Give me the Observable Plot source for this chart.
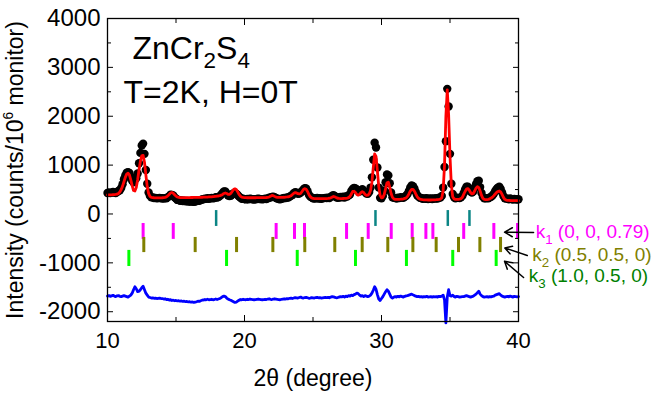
<!DOCTYPE html>
<html>
<head>
<meta charset="utf-8">
<script src="https://cdn.jsdelivr.net/npm/d3@7"></script>
<script src="https://cdn.jsdelivr.net/npm/@observablehq/plot@0.6"></script>
<style>
  html, body { margin: 0; padding: 0; background: #fff; }
  #chart { width: 665px; height: 394px; }
</style>
</head>
<body>
<div id="chart"></div>
<script>
// Neutron powder pattern of ZnCr2S4 at 2 K, zero field, sampled every 0.1° in 2θ from 10° to 40°.
const twoTheta = d3.range(0, 301).map(i => (100 + i) / 10);

// Observed intensity (counts / 10^6 monitor)
const observed = [
  430, 440, 427, 438, 450, 437, 430, 450, 470, 485,
  530, 610, 710, 790, 845, 855, 840, 760, 680, 650,
  700, 730, 830, 1040, 1250, 1400, 1440, 1230, 900, 620,
  440, 370, 340, 340, 327, 330, 320, 325, 330, 320,
  322, 315, 325, 320, 345, 360, 395, 390, 380, 340,
  315, 288, 285, 272, 275, 265, 270, 260, 265, 256,
  261, 252, 257, 248, 253, 264, 275, 270, 286, 297,
  303, 314, 310, 321, 313, 320, 327, 320, 328, 342,
  335, 348, 365, 395, 430, 460, 460, 420, 380, 365,
  375, 400, 425, 425, 415, 390, 355, 335, 310, 313,
  305, 298, 307, 302, 312, 307, 302, 297, 302, 308,
  313, 308, 304, 299, 305, 311, 307, 320, 333, 340,
  348, 355, 345, 325, 315, 308, 303, 313, 320, 327,
  325, 338, 337, 355, 375, 390, 425, 447, 435, 415,
  420, 440, 465, 500, 528, 520, 465, 395, 355, 340,
  323, 315, 323, 328, 318, 323, 313, 319, 324, 330,
  326, 333, 327, 350, 375, 383, 365, 340, 332, 338,
  346, 341, 352, 338, 360, 355, 385, 400, 470, 510,
  535, 520, 500, 475, 460, 475, 505, 470, 450, 420,
  415, 450, 540, 750, 1110, 1460, 1360, 950, 540, 330,
  320, 370, 480, 650, 810, 790, 630, 440, 340, 330,
  330, 318, 333, 325, 342, 335, 330, 353, 375, 410,
  470, 540, 585, 570, 520, 450, 385, 355, 330, 328,
  313, 320, 313, 322, 306, 311, 316, 307, 318, 315,
  322, 315, 333, 335, 370, 540, 960, 1490, 2560, 2200,
  1230, 620, 410, 340, 320, 333, 330, 325, 340, 370,
  430, 500, 560, 560, 520, 460, 440, 460, 530, 610,
  670, 680, 550, 430, 350, 320, 320, 325, 320, 340,
  350, 380, 415, 470, 510, 540, 560, 510, 440, 370,
  320, 315, 315, 303, 316, 305, 295, 309, 303, 297,
  302
];

// Calculated (refined) profile
const calculated = [
  390, 390, 392, 393, 395, 397, 400, 405, 420, 450,
  500, 570, 660, 750, 815, 835, 800, 700, 580, 480,
  470, 540, 700, 900, 1080, 1190, 1200, 1060, 800, 560,
  420, 360, 340, 335, 332, 330, 330, 330, 330, 330,
  332, 335, 340, 350, 370, 400, 430, 440, 425, 395,
  365, 348, 340, 337, 335, 335, 335, 335, 335, 336,
  336, 337, 337, 338, 338, 339, 340, 340, 341, 342,
  343, 344, 345, 346, 348, 350, 352, 355, 358, 362,
  365, 368, 375, 385, 400, 420, 430, 420, 400, 400,
  420, 460, 500, 515, 500, 455, 400, 365, 345, 338,
  335, 333, 332, 332, 332, 332, 332, 332, 332, 333,
  333, 333, 334, 334, 335, 336, 337, 340, 348, 365,
  378, 375, 360, 345, 340, 338, 338, 338, 340, 342,
  345, 348, 352, 360, 375, 400, 425, 437, 430, 415,
  410, 420, 460, 500, 518, 505, 460, 400, 355, 330,
  318, 315, 313, 313, 313, 313, 313, 314, 314, 315,
  316, 318, 322, 330, 345, 358, 350, 335, 322, 318,
  316, 316, 317, 318, 320, 325, 335, 360, 410, 460,
  465, 440, 400, 385, 400, 435, 455, 440, 400, 380,
  385, 410, 480, 650, 950, 1230, 1180, 880, 560, 380,
  330, 340, 400, 520, 640, 650, 550, 420, 340, 310,
  300, 298, 298, 300, 302, 305, 310, 318, 330, 360,
  410, 470, 505, 505, 470, 410, 355, 320, 305, 298,
  293, 290, 288, 287, 286, 286, 286, 287, 288, 290,
  292, 295, 298, 305, 330, 480, 1000, 2000, 2540, 2030,
  1180, 580, 350, 310, 300, 298, 300, 305, 315, 340,
  400, 460, 510, 520, 490, 440, 410, 420, 470, 530,
  560, 540, 470, 380, 320, 300, 295, 295, 300, 310,
  325, 345, 375, 410, 440, 460, 470, 450, 400, 340,
  300, 285, 280, 278, 276, 275, 275, 274, 273, 272,
  272
];

// Difference curve (observed - calculated), drawn shifted below the pattern
const difference = [
  -1680, -1670, -1685, -1675, -1665, -1680, -1690, -1675, -1670, -1685,
  -1690, -1680, -1670, -1680, -1690, -1700, -1680, -1660, -1620, -1550,
  -1490, -1530, -1590, -1580, -1550, -1510, -1480, -1550, -1620, -1660,
  -1700, -1710, -1720, -1715, -1725, -1720, -1730, -1725, -1720, -1730,
  -1730, -1740, -1735, -1750, -1745, -1760, -1755, -1770, -1765, -1775,
  -1770, -1780, -1775, -1785, -1780, -1790, -1785, -1795, -1790, -1800,
  -1795, -1805, -1800, -1810, -1805, -1795, -1785, -1790, -1775, -1765,
  -1760, -1750, -1755, -1745, -1755, -1750, -1745, -1755, -1750, -1740,
  -1750, -1740, -1730, -1710, -1690, -1680, -1690, -1720, -1740, -1755,
  -1765, -1780, -1795, -1810, -1805, -1785, -1765, -1750, -1755, -1745,
  -1750, -1755, -1745, -1750, -1740, -1745, -1750, -1755, -1750, -1745,
  -1740, -1745, -1750, -1755, -1750, -1745, -1750, -1740, -1735, -1745,
  -1750, -1740, -1735, -1740, -1745, -1750, -1755, -1745, -1740, -1735,
  -1740, -1730, -1735, -1725, -1720, -1730, -1720, -1710, -1715, -1720,
  -1710, -1700, -1715, -1720, -1710, -1705, -1715, -1725, -1720, -1710,
  -1715, -1720, -1710, -1705, -1715, -1710, -1720, -1715, -1710, -1705,
  -1710, -1705, -1715, -1700, -1690, -1695, -1705, -1715, -1710, -1700,
  -1690, -1695, -1685, -1700, -1680, -1690, -1670, -1680, -1660, -1670,
  -1650, -1640, -1620, -1630, -1660, -1680, -1670, -1690, -1670, -1680,
  -1690, -1680, -1660, -1620, -1560, -1490, -1540, -1650, -1740, -1770,
  -1730, -1690, -1640, -1590, -1550, -1580, -1640, -1700, -1720, -1700,
  -1690, -1700, -1685, -1695, -1680, -1690, -1700, -1685, -1675, -1670,
  -1660, -1650, -1640, -1655, -1670, -1680, -1690, -1685, -1695, -1690,
  -1700, -1690, -1695, -1685, -1700, -1695, -1690, -1700, -1690, -1695,
  -1690, -1700, -1685, -1690, -1680, -1660, -1760, -2230, -1700, -1550,
  -1670, -1680, -1660, -1690, -1700, -1685, -1690, -1700, -1695, -1690,
  -1690, -1680, -1670, -1680, -1690, -1700, -1690, -1680, -1660, -1640,
  -1610, -1580, -1640, -1670, -1690, -1700, -1695, -1690, -1700, -1690,
  -1695, -1685, -1680, -1660, -1650, -1640, -1630, -1660, -1680, -1690,
  -1700, -1690, -1685, -1695, -1680, -1690, -1700, -1685, -1690, -1695,
  -1690
];

// Bragg reflection positions (2θ, degrees)
const nuclearPeaks = [17.93, 29.56, 34.84, 36.42];
const k1Peaks = [12.6, 14.8, 22.31, 23.65, 24.38, 27.45, 29.03, 30.71, 32.24, 33.24, 33.75, 36.0, 38.2, 39.93];
const k2Peaks = [12.65, 16.4, 19.42, 22.07, 24.4, 26.59, 28.59, 30.46, 32.29, 33.99, 35.62, 37.18, 38.69];
const k3Peaks = [11.56, 18.69, 23.85, 28.1, 31.82, 35.2, 38.37];

// Propagation-vector labels for the three magnetic reflection rows
const phaseNames = ["k_1 (0, 0, 0.79)", "k_2 (0.5, 0.5, 0)", "k_3 (1.0, 0.5, 0)"];
const phaseColors = ["#ff00ff", "#808000", "#008000"];

// Axis ticks
const xMajor = [10, 20, 30, 40];
const xMinor = [15, 25, 35];
const yMajor = [-2000, -1000, 0, 1000, 2000, 3000, 4000];
const yMinor = [-1500, -500, 500, 1500, 2500, 3500];

const pattern = twoTheta.map((t, i) => ({t, obs: observed[i], calc: calculated[i], diff: difference[i]}));

// Label placement and pointer arrows for each reflection row
const phaseLabels = phaseNames.map((label, i) => ({
  label,
  color: phaseColors[i],
  x: [41.25, 41.0, 40.75][i],
  y: [-500, -965, -1395][i]
}));
const pointers = [
  {x1: 41.1, y1: -378, x2: 38.98, y2: -372},
  {x1: 40.64, y1: -849, x2: 39.0, y2: -694},
  {x1: 40.37, y1: -1299, x2: 38.98, y2: -968}
];

const font = "'Liberation Sans', Arial, Helvetica, sans-serif";
const plain = d => String(d);

const chart = Plot.plot({
  width: 665,
  height: 394,
  marginLeft: 107,
  marginRight: 147,
  marginTop: 18,
  marginBottom: 73,
  style: {fontFamily: font, fontSize: "22px", color: "black", background: "white", overflow: "visible"},
  x: {domain: [10, 40]},
  y: {domain: [-2200, 4000]},
  marks: [
    // reflection markers
    Plot.ruleX(nuclearPeaks, {x: d => d, y1: 70, y2: -255, stroke: "#0b8585", strokeWidth: 2.5}),
    Plot.ruleX(k1Peaks, {x: d => d, y1: -195, y2: -520, stroke: "#ff00ff", strokeWidth: 3}),
    Plot.ruleX(k2Peaks, {x: d => d, y1: -480, y2: -790, stroke: "#808000", strokeWidth: 3}),
    Plot.ruleX(k3Peaks, {x: d => d, y1: -745, y2: -1075, stroke: "#00ff00", strokeWidth: 3}),
    // difference curve
    Plot.line(pattern, {x: "t", y: "diff", stroke: "#0000ff", strokeWidth: 2.8}),
    // observed points and calculated profile
    Plot.dot(pattern, {x: "t", y: "obs", r: 4.2, fill: "black", stroke: "none"}),
    Plot.line(pattern, {x: "t", y: "calc", stroke: "#ff0000", strokeWidth: 2.8}),
    // frame with inward ticks on all four sides
    Plot.frame({stroke: "black", strokeWidth: 1.3}),
    Plot.axisX(xMajor, {anchor: "bottom", tickSize: -6, tickPadding: 17, fontSize: 22, tickFormat: plain, label: null}),
    Plot.axisX(xMinor, {anchor: "bottom", tickSize: -4, tickFormat: () => "", label: null}),
    Plot.axisX(xMajor, {anchor: "top", tickSize: -6, tickFormat: () => "", label: null}),
    Plot.axisX(xMinor, {anchor: "top", tickSize: -4, tickFormat: () => "", label: null}),
    Plot.axisY(yMajor, {anchor: "left", tickSize: -6, tickPadding: 13, fontSize: 24, tickFormat: plain, label: null}),
    Plot.axisY(yMinor, {anchor: "left", tickSize: -4, tickFormat: () => "", label: null}),
    Plot.axisY(yMajor, {anchor: "right", tickSize: -6, tickFormat: () => "", label: null}),
    Plot.axisY(yMinor, {anchor: "right", tickSize: -4, tickFormat: () => "", label: null}),
    // axis titles
    Plot.text(["2θ (degree)"], {text: d => d, frameAnchor: "bottom", dy: 64, textAnchor: "middle", lineAnchor: "bottom", fontSize: 23}),
    Plot.text(["Intensity (counts/10^6 monitor)"], {text: d => d, frameAnchor: "left", rotate: -90, dx: -85, textAnchor: "middle", lineAnchor: "bottom", fontSize: 23}),
    // sample and conditions
    Plot.text(["ZnCr_2S_4"], {text: d => d, frameAnchor: "top-left", dx: 25, dy: 40, textAnchor: "start", lineAnchor: "bottom", fontSize: 32}),
    Plot.text(["T=2K, H=0T"], {text: d => d, frameAnchor: "top-left", dx: 16, dy: 84, textAnchor: "start", lineAnchor: "bottom", fontSize: 32}),
    // propagation-vector legend
    Plot.arrow(pointers, {x1: "x1", y1: "y1", x2: "x2", y2: "y2", stroke: "black", strokeWidth: 1.5, headLength: 9}),
    Plot.text(phaseLabels, {x: "x", y: "y", text: "label", fill: "color", textAnchor: "start", lineAnchor: "bottom", fontSize: 19})
  ]
});

document.getElementById("chart").appendChild(chart);

// Render "_x" as a subscript and "^x" as a superscript inside SVG text
function richText(svg) {
  svg.querySelectorAll("text").forEach(node => {
    const s = node.textContent;
    if (!/[_^]/.test(s)) return;
    const fs = parseFloat(getComputedStyle(node).fontSize);
    while (node.firstChild) node.removeChild(node.firstChild);
    let shift = 0;
    const re = /([_^])(.)|([^_^]+)/g;
    let m;
    while ((m = re.exec(s))) {
      const span = document.createElementNS("http://www.w3.org/2000/svg", "tspan");
      let target = 0;
      if (m[1]) {
        target = m[1] === "_" ? 0.3 * fs : -0.42 * fs;
        span.setAttribute("font-size", (m[1] === "_" ? 0.7 : 0.6) * fs);
        span.textContent = m[2];
      } else {
        span.textContent = m[3];
      }
      span.setAttribute("dy", target - shift);
      shift = target;
      node.appendChild(span);
    }
  });
}
richText(chart);
</script>
</body>
</html>
